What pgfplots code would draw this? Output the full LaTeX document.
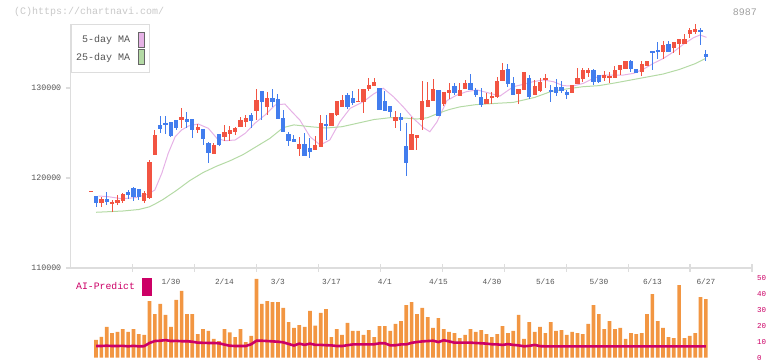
\documentclass[border=0pt]{standalone}
\usepackage{fontspec}
\setmainfont{Liberation Mono}
\newfontfamily\mono{Liberation Mono}
\usepackage{pgfplots}
\usepackage{pgfplotstable}
\pgfplotsset{compat=1.18}
\definecolor{cred}{RGB}{242,84,66}
\definecolor{cblue}{RGB}{66,125,238}
\definecolor{corange}{RGB}{242,150,66}
\definecolor{cmag}{RGB}{204,0,102}
\definecolor{cpink}{RGB}{230,178,230}
\definecolor{cgreen}{RGB}{180,218,165}
\definecolor{cgrid}{RGB}{221,221,221}
\definecolor{ctext}{RGB}{85,85,85}
\definecolor{cwm}{RGB}{200,200,200}

\pgfplotstableread{
i o h l c
-1 118.50 118.50 118.50 118.50
1 117.26 117.92 116.81 117.67
3 117.11 117.56 116.26 117.37
4 117.26 118.11 117.00 117.56
5 117.44 118.33 117.22 118.26
9 117.44 118.55 117.18 118.33
10 117.81 122.00 117.70 121.78
11 122.56 125.33 122.56 124.78
16 126.48 127.78 125.59 126.78
19 125.37 126.03 124.96 125.67
22 122.70 123.85 122.70 123.67
24 124.59 125.92 124.15 125.11
25 124.92 125.78 124.15 125.33
26 125.11 125.70 124.78 125.59
27 125.70 126.74 125.63 126.48
28 126.22 127.00 125.70 126.70
30 127.48 129.85 126.44 128.67
32 127.92 129.60 127.00 128.92
38 123.22 124.59 122.48 123.78
41 123.15 124.70 123.15 123.67
42 123.48 127.00 123.48 126.11
44 125.81 127.22 125.81 127.22
45 127.00 128.56 126.93 128.56
46 127.89 129.22 127.89 128.70
49 128.48 129.89 128.48 128.59
50 128.48 129.89 127.26 129.89
51 129.89 131.15 129.70 130.33
52 130.22 131.15 130.22 130.70
56 126.37 127.40 125.59 126.78
59 123.15 126.78 123.15 124.89
60 124.48 124.78 123.15 124.78
61 126.48 130.78 125.37 128.56
62 127.92 130.70 127.92 128.63
63 128.59 131.00 128.59 129.89
65 128.19 129.56 128.00 129.56
66 129.48 130.52 128.78 129.74
68 129.15 130.52 129.15 129.78
69 129.89 130.89 129.89 130.56
73 128.26 129.41 128.26 128.78
74 128.98 129.52 128.26 129.11
75 129.03 131.26 128.85 130.78
76 130.81 132.81 130.81 132.00
79 129.37 129.89 128.26 129.89
80 129.82 131.78 129.82 131.78
82 129.22 130.89 129.22 130.22
83 129.67 131.11 129.56 130.67
84 131.00 131.52 130.03 131.07
89 129.48 130.30 129.48 130.30
90 130.48 132.22 130.48 131.11
91 131.00 132.19 130.70 131.96
92 131.63 132.19 131.22 131.96
95 131.07 131.85 130.78 131.41
96 131.07 131.74 130.59 131.37
97 131.15 132.48 131.15 131.96
98 132.00 132.55 131.44 132.55
99 132.11 133.00 132.11 133.00
102 131.81 133.00 131.33 132.63
103 132.48 133.00 132.48 133.00
106 133.96 135.22 133.26 134.78
108 134.48 135.11 133.85 135.11
109 134.85 135.44 133.67 135.44
110 134.85 136.00 134.85 135.44
111 135.96 136.67 135.52 136.44
112 136.26 137.11 136.00 136.56
}\up

\pgfplotstableread{
i o h l c
0 118.00 118.00 116.81 117.26
2 117.67 118.44 117.00 117.37
6 118.44 118.66 117.67 118.15
7 118.89 119.03 117.48 117.85
8 118.78 118.78 117.60 117.92
12 125.89 126.89 125.03 125.48
13 126.15 126.89 124.92 125.96
14 126.22 126.22 124.59 124.70
15 126.44 126.44 125.30 125.52
17 126.56 127.33 125.59 126.22
18 126.56 126.56 124.48 125.37
20 125.44 125.44 123.67 124.37
21 123.92 124.03 121.70 122.81
23 124.92 124.92 123.56 123.63
29 127.04 127.26 125.52 126.37
31 129.67 129.67 126.44 128.48
33 128.92 129.89 127.90 128.48
34 128.78 129.33 126.59 126.59
35 126.67 127.50 125.15 125.15
36 124.89 125.15 123.56 124.15
37 124.37 124.80 124.00 124.00
39 123.78 124.96 122.48 122.48
40 123.30 124.41 122.26 122.93
43 126.00 127.00 124.19 125.81
47 129.22 129.48 127.67 127.89
48 128.92 129.67 128.11 128.33
53 130.03 130.03 127.55 127.55
54 128.56 129.67 127.48 127.48
55 128.03 128.03 126.78 127.30
57 126.78 127.19 125.20 126.44
58 123.56 126.08 120.25 121.70
64 129.78 129.78 126.92 126.92
67 130.22 130.52 129.22 129.48
70 130.56 131.56 129.74 129.74
71 129.74 130.03 129.03 129.22
72 129.00 130.03 127.92 128.11
77 132.11 132.67 130.15 130.48
78 130.52 131.26 129.26 129.26
81 131.11 131.44 128.78 129.03
85 129.74 130.33 128.48 129.59
86 130.11 131.00 129.11 129.48
87 130.11 130.78 129.48 129.70
88 129.56 129.78 128.81 129.26
93 131.96 132.15 130.33 130.70
94 131.41 131.41 130.52 130.70
100 133.00 133.11 131.74 132.07
101 132.11 132.11 131.67 131.67
104 134.11 134.11 132.00 133.92
105 134.26 135.15 133.26 134.07
107 134.89 135.22 134.00 134.00
113 136.44 136.63 134.81 136.26
114 133.78 134.22 133.04 133.44
}\down

\pgfplotstableread{
i v a
0 11.1 7.3
1 13.0 7.3
2 19.2 7.5
3 15.4 7.3
4 16.1 7.3
5 17.9 7.4
6 16.1 7.1
7 17.9 7.4
8 14.8 7.1
9 14.2 7.2
10 35.4 9.2
11 27.3 10.4
12 33.6 10.6
13 26.7 11.0
14 19.2 10.4
15 36.1 10.5
16 41.7 10.3
17 27.3 10.3
18 27.3 10.0
19 14.8 9.4
20 17.9 9.3
21 16.7 9.2
22 11.7 9.2
23 10.4 9.0
24 17.9 8.2
25 15.8 7.5
26 12.9 7.3
27 17.9 7.3
28 9.8 7.3
29 13.6 8.4
30 49.2 10.6
31 33.6 10.6
32 35.4 10.4
33 34.8 10.2
34 34.8 10.0
35 31.1 9.6
36 22.3 8.6
37 18.6 7.6
38 20.4 8.8
39 19.2 8.0
40 29.2 8.8
41 20.0 8.0
42 28.0 8.0
43 30.4 7.8
44 12.9 7.7
45 17.9 7.3
46 14.2 7.3
47 21.7 7.8
48 16.7 8.3
49 16.7 8.3
50 14.2 8.3
51 17.3 8.3
52 12.9 8.4
53 19.8 9.0
54 19.8 9.0
55 16.7 7.7
56 21.1 7.8
57 22.9 8.3
58 32.9 8.3
59 34.8 9.3
60 27.3 9.8
61 31.1 10.2
62 25.4 10.4
63 18.6 10.6
64 24.8 9.8
65 17.9 10.9
66 16.1 10.2
67 15.4 9.4
68 12.3 9.4
69 14.2 9.4
70 17.9 9.4
71 16.1 9.2
72 17.3 9.0
73 14.8 8.8
74 12.9 8.4
75 14.8 8.3
76 19.8 8.0
77 15.4 8.5
78 16.7 8.0
79 26.7 7.7
80 11.7 7.1
81 22.3 7.4
82 16.1 8.0
83 19.2 7.2
84 15.4 7.1
85 22.3 7.1
86 16.7 7.1
87 17.3 7.1
88 14.2 7.1
89 16.1 7.1
90 15.4 7.1
91 14.8 7.1
92 21.1 7.1
93 32.9 7.1
94 27.3 7.1
95 17.9 7.1
96 22.9 7.1
97 17.9 7.1
98 18.6 7.1
99 11.7 7.1
100 15.4 7.1
101 14.8 7.1
102 15.4 7.1
103 27.3 7.1
104 39.8 7.1
105 22.9 7.1
106 18.6 7.1
107 12.9 7.1
108 12.3 7.1
109 45.4 7.1
110 12.3 7.1
111 13.6 7.1
112 15.4 7.1
113 37.9 7.1
114 36.6 7.1
}\low

\pgfplotsset{
  candle/.style n args={2}{draw=none, mark=none, forget plot,
    error bars/.cd, y dir=both, y explicit, error mark=none,
    error bar style={draw=#1, line width=#2, solid}},
}

\begin{document}
\begin{tikzpicture}
\path[use as bounding box] (0pt,0pt) rectangle (772pt,361pt);
\node[anchor=west, text=cwm, font=\mono\fontsize{10}{12}\selectfont, inner sep=0pt] at (14pt,349pt) {(C)https://chartnavi.com/};
\node[anchor=east, text=cwm!80!black, font=\mono\fontsize{10}{12}\selectfont, inner sep=0pt] at (757pt,349pt) {8987};

\begin{axis}[
  at={(70.7pt,93pt)}, anchor=south west,
  scale only axis, width=681.3pt, height=244pt,
  xmin=-4.73, xmax=122.62, ymin=110, ymax=137.11,
  axis x line*=bottom, axis y line*=left,
  axis line style={draw=cgrid, line width=1.2pt, -},
  xtick={6.85,18.42,30.0,41.58,53.16,64.73,76.31,87.89,99.46,111.04,122.62},
  xticklabels={},
  xtick align=center,
  xtick style={draw=cgrid, line width=1.2pt, /pgfplots/major tick length=8pt},
  ytick={110,120,130}, yticklabels={110000,120000,130000},
  ytick align=outside,
  ytick style={draw=cgrid, line width=1.2pt, /pgfplots/major tick length=5pt},
  yticklabel style={font=\mono\fontsize{8.3}{10}\selectfont, text=ctext, inner sep=0pt, xshift=-5pt},
  clip=false,
  legend style={at={(0,1)}, anchor=north west, draw=cgrid, line width=1pt, fill=white,
    font=\mono\fontsize{10}{12}\selectfont, text=ctext,
    inner xsep=5pt, inner ysep=7.6pt, row sep=1.4pt, column sep=7.4pt,
    nodes={inner sep=0pt}},
  legend cell align=right,
  legend plot pos=right,
]
\addplot[cpink, line width=1pt,
  legend image code/.code={\draw[fill=cpink, draw=black!60, line width=0.8pt] (0pt,-7.5pt) rectangle (6pt,7.5pt);}]
 coordinates {(0.5,118.0) (2.3,117.92) (4.8,117.70) (7.3,117.81) (9.8,118.22) (11,118.67) (12.3,120.52) (13.5,122.74) (14.8,124.59) (16,125.33) (17.3,125.78) (19.1,126.0) (21,125.52) (22.6,124.41) (24.1,124.14) (26,124.22) (27.9,124.97) (29.7,126.08) (31.6,127.0) (33.5,128.11) (35.3,128.22) (36.6,127.37) (38.1,126.44) (40,124.59) (41.9,123.67) (43.7,124.22) (45.6,126.26) (47.5,127.74) (50,128.48) (51.8,129.30) (53.7,129.97) (55.6,129.03) (57.4,127.92) (59.3,126.63) (61.2,125.59) (62.4,125.14) (63.7,126.2) (65.6,128.6) (67.4,129.2) (69.3,129.6) (71.2,129.78) (73.1,129.5) (75.5,129.1) (78,130.14) (79.9,130.41) (81.7,130.70) (83.6,130.89) (85.5,130.70) (87.3,130.26) (89.2,130.22) (91.1,130.52) (93,131.08) (94.9,131.44) (96.7,131.44) (98.6,131.44) (100.5,131.63) (102.3,132.08) (104.2,132.74) (106.1,133.30) (108,134.03) (109.8,134.86) (111.7,135.59) (112.9,135.89) (114.1,135.63)};
\addlegendentry{5-day MA}
\addplot[cgreen, line width=1pt,
  legend image code/.code={\draw[fill=cgreen, draw=black!60, line width=0.8pt] (0pt,-7.5pt) rectangle (6pt,7.5pt);}]
 coordinates {(0,116.19) (5,116.33) (8,116.5) (10,116.8) (11,117.1) (12.5,117.6) (15,118.6) (17.5,119.7) (20,120.6) (22.5,121.3) (25,121.9) (27.5,122.6) (30,123.5) (32.5,124.4) (35,125.6) (37,125.9) (40,125.7) (43,125.55) (46,125.7) (49,126.1) (52,126.5) (55,126.7) (58,126.65) (60,126.55) (62,126.7) (64,127.2) (66,127.6) (68,127.9) (71,128.15) (75,128.3) (78,128.4) (82,128.95) (85,129.6) (88,129.9) (91,130.14) (94,130.26) (97,130.56) (100,130.89) (103,131.22) (106,131.55) (109,132.05) (112,132.7) (114,133.3)};
\addlegendentry{25-day MA}

% wicks
\addplot[candle={cred}{1pt}]
  table[x=i, y expr={(\thisrow{h}+\thisrow{l})/2}, y error expr={(\thisrow{h}-\thisrow{l})/2}] {\up};
\addplot[candle={cblue}{1pt}]
  table[x=i, y expr={(\thisrow{h}+\thisrow{l})/2}, y error expr={(\thisrow{h}-\thisrow{l})/2}] {\down};
% bodies
\addplot[candle={cred}{4.3pt}]
  table[x=i, y expr={(\thisrow{o}+\thisrow{c})/2}, y error expr={max(abs(\thisrow{o}-\thisrow{c})/2,0.07)}] {\up};
\addplot[candle={cblue}{4.3pt}]
  table[x=i, y expr={(\thisrow{o}+\thisrow{c})/2}, y error expr={max(abs(\thisrow{o}-\thisrow{c})/2,0.07)}] {\down};
\end{axis}

\begin{axis}[
  at={(70.7pt,3.3pt)}, anchor=south west,
  scale only axis, width=681.3pt, height=80pt,
  xmin=-4.73, xmax=122.62, ymin=0, ymax=50,
  axis line style={draw=none},
  major tick length=0pt,
  xtick={14,24,34,44,54,64,74,84,94,104,114},
  xticklabels={1/30,2/14,3/3,3/17,4/1,4/15,4/30,5/16,5/30,6/13,6/27},
  xticklabel pos=right,
  xticklabel style={anchor=center, font=\mono\fontsize{7.8}{9}\selectfont, text=ctext, inner sep=0pt, yshift=-4.3pt},
  ytick={0,10,20,30,40,50}, yticklabels={0,10,20,30,40,50},
  yticklabel pos=right,
  yticklabel style={anchor=west, font=\mono\fontsize{7.5}{9}\selectfont, text=cmag, inner sep=0pt, xshift=5pt},
  clip=false,
  legend style={at={(0,1)}, anchor=north west, draw=none, fill=none,
    font=\mono\fontsize{9.8}{11}\selectfont, text=cmag,
    inner xsep=5.3pt, inner ysep=0pt, column sep=7pt, nodes={inner sep=0pt}},
  legend plot pos=right,
]
\addplot[ybar, bar width=3.7pt, fill=corange, draw=none, forget plot] table[x=i, y=v] {\low};
\addplot[cmag, line width=2.6pt,
  legend image code/.code={\fill[cmag] (0pt,-8pt) rectangle (7pt,8pt);}]
  table[x=i, y=a] {\low};
\addlegendentry{AI-Predict}
\end{axis}
\end{tikzpicture}
\end{document}
